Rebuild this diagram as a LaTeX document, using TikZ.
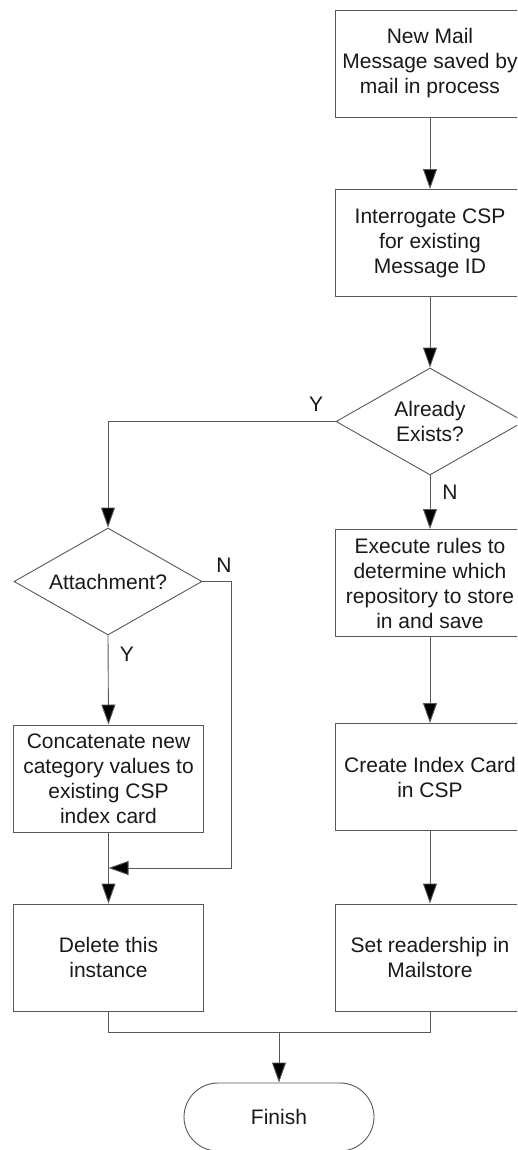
\documentclass[tikz,border=0pt]{standalone}
\usepackage{fontspec}
\setmainfont{Liberation Sans}
\usetikzlibrary{arrows.meta,shapes.geometric}
\begin{document}
\begin{tikzpicture}[x=1pt,y=-1pt,
  txt/.style={font=\fontsize{21}{25}\selectfont, text=black!90},
  box/.style={txt, draw=black!65, line width=0.9pt, minimum width=190pt, minimum height=107pt, align=center, inner sep=0pt},
  dec/.style={txt, draw=black!65, line width=0.9pt, diamond, aspect=1.76, minimum width=188pt, minimum height=107pt, align=center, inner sep=0pt},
  term/.style={txt, draw=black!65, line width=0.9pt, rounded corners=34pt, minimum width=190pt, minimum height=68pt, inner sep=0pt},
  conn/.style={draw=black!65, line width=0.9pt},
  arr/.style={conn, -{Triangle[length=20pt,width=14pt,fill=black]}},
  lbl/.style={txt}
]
\useasboundingbox (0,0) rectangle (517,1150);
\clip (0,0) rectangle (517,1150);
\fill[white] (0,0) rectangle (517,1150);

\node[box] (n1) at (430,63.5) {New Mail\\Message saved by\\mail in process};
\node[box] (n2) at (430,243) {Interrogate CSP\\for existing\\Message ID};
\node[dec] (d1) at (430,421.5) {Already\\Exists?};
\node[box] (n3) at (430,583) {Execute rules to\\determine which\\repository to store\\in and save};
\node[box] (n4) at (430,777) {Create Index Card\\in CSP};
\node[box] (n5) at (430,957.5) {Set readership in\\Mailstore};

\node[dec] (d2) at (108,581.5) {Attachment?};
\node[box] (n6) at (108.5,778.5) {Concatenate new\\category values to\\existing CSP\\index card};
\node[box] (n7) at (108.5,957.5) {Delete this\\instance};

\node[term] (fin) at (279,1117) {Finish};

\coordinate (m) at (108.5,868);
\coordinate (j) at (279,1032);

\draw[arr] (n1.south) -- (n2.north);
\draw[arr] (n2.south) -- (d1.north);
\draw[arr] (d1.west) -| (d2.north);
\draw[arr] (d1.south) -- (n3.north);
\draw[arr] (n3.south) -- (n4.north);
\draw[arr] (n4.south) -- (n5.north);
\draw[arr] (d2.south) -- (n6.north);
\draw[arr] (n6.south) -- (n7.north);
\draw[arr] (d2.east) -- ++(29,0) |- (m);
\draw[conn] (n5.south) |- (j) -| (n7.south);
\draw[arr] (j) -- (fin.north);

\node[lbl] (ly1) at (316,404) {Y};
\node[lbl] (ln1) at (450,492) {N};
\node[lbl] (ln2) at (224,565) {N};
\node[lbl] (ly2) at (127,654) {Y};
\end{tikzpicture}
\end{document}
